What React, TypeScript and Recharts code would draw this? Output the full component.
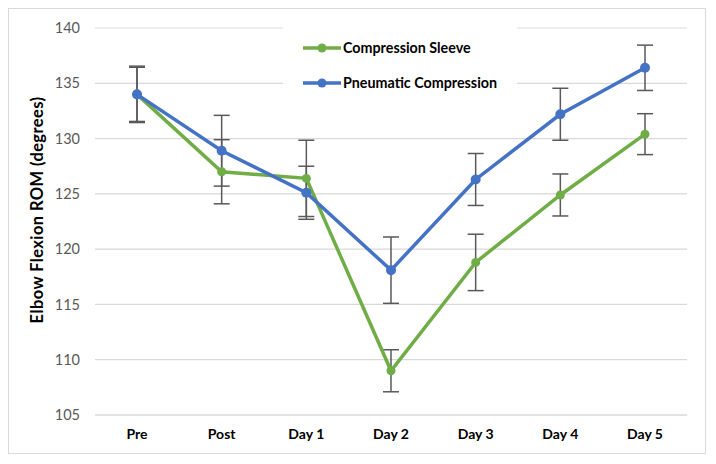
import { LineChart, Line, XAxis, YAxis, CartesianGrid, Legend, ErrorBar } from 'recharts';

const categories = ['Pre', 'Post', 'Day 1', 'Day 2', 'Day 3', 'Day 4', 'Day 5'];
const sleeve = [134, 127, 126.4, 109, 118.8, 124.9, 130.4];
const sleeveErr = [2.45, 2.9, 3.45, 1.9, 2.55, 1.9, 1.85];
const pneumatic = [134, 128.9, 125.1, 118.1, 126.3, 132.2, 136.4];
const pneumaticErr = [2.55, 3.2, 2.4, 3.0, 2.35, 2.35, 2.05];
const yTicks = [105, 110, 115, 120, 125, 130, 135, 140];

const GREEN = '#70AD47';
const BLUE = '#4472C4';
const FONT = 'Lato, "Liberation Sans", sans-serif';

const data = categories.map((name, i) => ({
  name,
  sleeve: sleeve[i],
  sleeveErr: sleeveErr[i],
  pneumatic: pneumatic[i],
  pneumaticErr: pneumaticErr[i],
}));

const series = [
  { key: 'sleeve', label: 'Compression Sleeve', color: GREEN },
  { key: 'pneumatic', label: 'Pneumatic Compression', color: BLUE },
];

function LegendBox() {
  return (
    <div style={{ background: '#fff', padding: '6px 10px 6px 20px', width: 204 }}>
      {series.map((s) => (
        <div key={s.key} style={{ display: 'flex', alignItems: 'center', height: 35 }}>
          <svg width={38} height={12} style={{ marginRight: 2 }}>
            <line x1={0} y1={6} x2={38} y2={6} stroke={s.color} strokeWidth={3.5} />
            <circle cx={19} cy={6} r={4.5} fill={s.color} />
          </svg>
          <span style={{ fontFamily: FONT, fontWeight: 700, fontSize: 14.3, color: '#000', whiteSpace: 'nowrap' }}>{s.label}</span>
        </div>
      ))}
    </div>
  );
}

const YLabel = () => (
  <text
    x={28}
    y={201}
    transform="rotate(-90, 28, 201)"
    textAnchor="middle"
    dominantBaseline="central"
    style={{ fontFamily: FONT, fontWeight: 700, fontSize: 16.5, letterSpacing: 0.4, fill: '#000' }}
  >
    Elbow Flexion ROM (degrees)
  </text>
);

export default function App() {
  return (
    <div style={{ width: 696, height: 444, border: '1px solid #d9d9d9', background: '#fff' }}>
      <LineChart width={696} height={444} data={data} margin={{ top: 19, right: 18, bottom: 0, left: 0 }}>
        <CartesianGrid vertical={false} stroke="#d9d9d9" strokeWidth={1.2} />
        <XAxis
          dataKey="name"
          height={38}
          padding={{ left: 42, right: 42 }}
          tickLine={false}
          axisLine={{ stroke: '#d9d9d9', strokeWidth: 1.2 }}
          tickMargin={8}
          tick={{ fontFamily: FONT, fontWeight: 700, fontSize: 14, fill: '#000' }}
        />
        <YAxis
          width={86}
          domain={[105, 140]}
          ticks={yTicks}
          interval={0}
          axisLine={false}
          tickLine={false}
          tickMargin={9}
          tick={{ fontFamily: FONT, fontSize: 14.5, fill: '#595959' }}
          label={<YLabel />}
        />
        <Legend
          content={<LegendBox />}
          layout="vertical"
          align="center"
          verticalAlign="middle"
          wrapperStyle={{ position: 'absolute', left: 274, top: 15, width: 'auto' }}
        />
        <Line
          dataKey="sleeve"
          name="Compression Sleeve"
          stroke={GREEN}
          strokeWidth={3.5}
          dot={{ r: 4.5, fill: GREEN, stroke: GREEN, strokeWidth: 0 }}
          activeDot={false}
          isAnimationActive={false}
        >
          <ErrorBar dataKey="sleeveErr" direction="y" width={8} stroke="#595959" strokeWidth={1.5} isAnimationActive={false} />
        </Line>
        <Line
          dataKey="pneumatic"
          name="Pneumatic Compression"
          stroke={BLUE}
          strokeWidth={3.5}
          dot={{ r: 5, fill: BLUE, stroke: BLUE, strokeWidth: 0 }}
          activeDot={false}
          isAnimationActive={false}
        >
          <ErrorBar dataKey="pneumaticErr" direction="y" width={8} stroke="#595959" strokeWidth={1.5} isAnimationActive={false} />
        </Line>
      </LineChart>
    </div>
  );
}
